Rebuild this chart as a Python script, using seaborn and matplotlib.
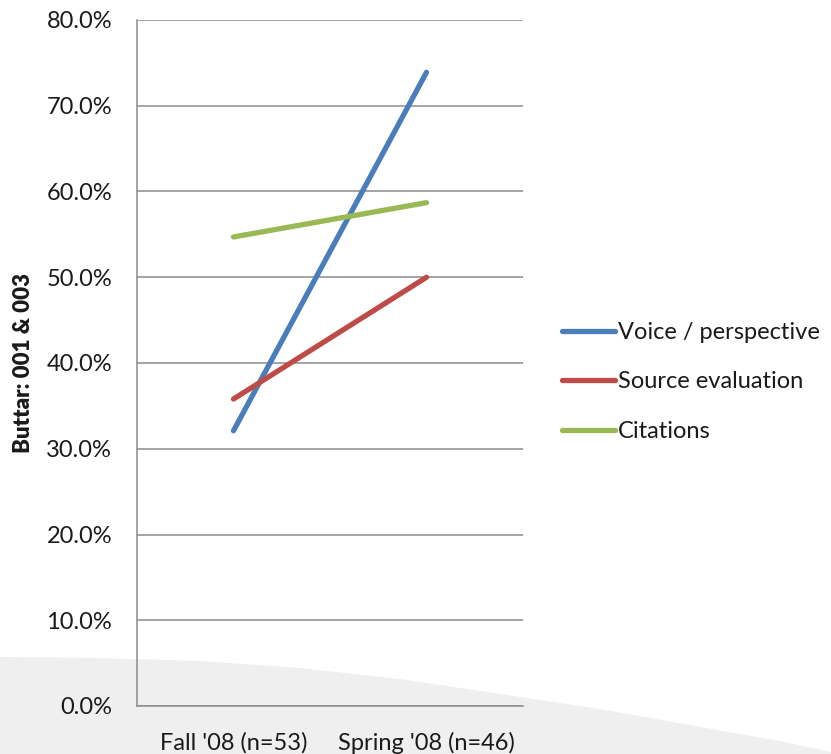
import matplotlib
matplotlib.use("Agg")
import matplotlib.pyplot as plt
from matplotlib.patches import Polygon
import seaborn as sns
import pandas as pd

# Survey periods and the share of papers meeting each criterion (%)
periods = ["Fall '08 (n=53)", "Spring '08 (n=46)"]
voice_perspective = [32.1, 73.9]
source_evaluation = [35.8, 50.0]
citations = [54.7, 58.7]

series_names = ["Voice / perspective", "Source evaluation", "Citations"]
series_values = [voice_perspective, source_evaluation, citations]
colors = ["#4A7EBB", "#BE4B48", "#98B954"]

df = pd.DataFrame(
    [(p, name, v) for name, vals in zip(series_names, series_values)
     for p, v in zip(periods, vals)],
    columns=["period", "criterion", "value"],
)

sns.set_theme(style="white")
plt.rcParams["font.family"] = ["Lato", "DejaVu Sans"]

W, H = 831, 754
fig = plt.figure(figsize=(W / 100, H / 100), dpi=100)
fig.patch.set_facecolor("white")

# soft grey swoosh across the bottom of the slide
curve = [(0, 657), (100, 658), (200, 661), (300, 668), (400, 679),
         (500, 694), (600, 709), (700, 727), (780, 741), (831, 752)]
pts = [(x / W, 1 - y / H) for x, y in curve] + [(1, 0), (0, 0)]
fig.add_artist(Polygon(pts, closed=True, transform=fig.transFigure,
                       facecolor="#efefef", edgecolor="none", zorder=0))

ax = fig.add_axes([137 / W, 1 - 706 / H, (523 - 137) / W, (706 - 20) / H])
ax.patch.set_alpha(0)

sns.lineplot(data=df, x="period", y="value", hue="criterion",
             hue_order=series_names, palette=colors, sort=False,
             linewidth=3.8, ax=ax, legend=False)
for line in ax.lines:
    line.set_solid_capstyle("round")

ax.set_xlim(-0.5, 1.5)
ax.set_ylim(0, 80)
ax.set_yticks(range(0, 81, 10))
ax.set_yticklabels([f"{t:.1f}%" for t in range(0, 81, 10)])
ax.yaxis.grid(True, color="#8c8c8c", linewidth=1.1)
ax.xaxis.grid(False)
ax.set_axisbelow(True)
for side in ["top", "right"]:
    ax.spines[side].set_visible(False)
for side in ["left", "bottom"]:
    ax.spines[side].set_color("#8c8c8c")
    ax.spines[side].set_linewidth(1.1)
ax.tick_params(axis="both", length=0, labelsize=17, colors="#1a1a1a")
ax.tick_params(axis="y", pad=18)
ax.tick_params(axis="x", pad=19)
ax.set_xlabel("")
ax.set_ylabel("Buttar: 001 & 003", fontsize=16, fontweight="heavy",
              color="#1a1a1a", labelpad=9)

handles = [plt.Line2D([], [], color=c, linewidth=3.8, solid_capstyle="round")
           for c in colors]
fig.legend(handles, series_names, loc="center left",
           bbox_to_anchor=(541 / W, 1 - 382 / H), frameon=False,
           fontsize=17, handlelength=2.25, handletextpad=0.1,
           labelspacing=1.2, labelcolor="#1a1a1a")

fig.savefig("out.png", dpi=100)
